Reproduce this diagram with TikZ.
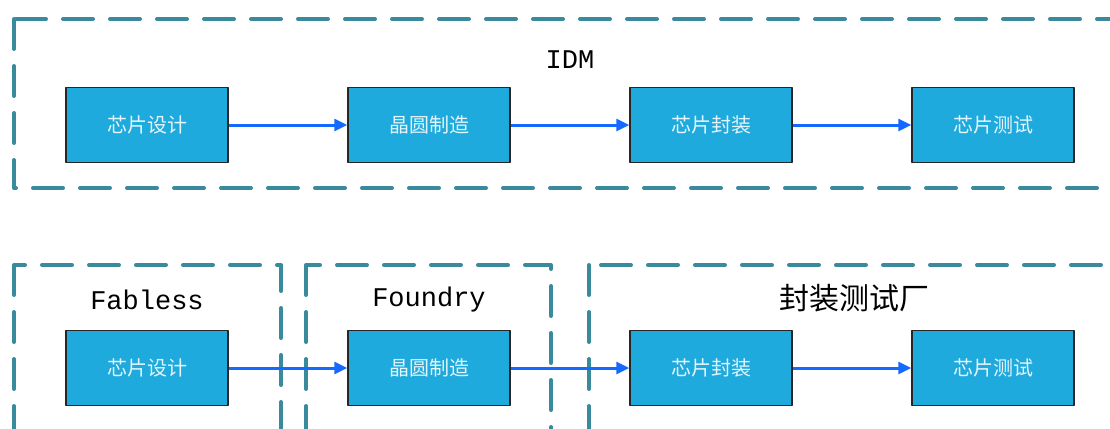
\documentclass[tikz,border=0pt]{standalone}
\usepackage{fontspec}
\setmonofont{Liberation Mono}
\newfontfamily\cjk{Noto Sans CJK SC}
\usetikzlibrary{positioning,arrows.meta}
\definecolor{boxblue}{RGB}{30,170,221}
\definecolor{arrowblue}{RGB}{20,105,255}
\definecolor{frameteal}{RGB}{58,138,158}
\begin{document}
\begin{tikzpicture}[x=1pt,y=-1pt,line join=round,
	stage/.style={draw=black!85,line width=1.5pt,fill=boxblue,minimum width=162pt,minimum height=75pt,
		font=\cjk\fontsize{20}{24}\selectfont,text=white!88!boxblue},
	flow/.style={arrowblue,line width=3pt,-{Triangle[length=13pt,width=12pt]}},
	frame/.style={frameteal,line width=4pt,line cap=round,dash pattern=on 30pt off 17pt},
	title/.style={font=\ttfamily\fontsize{27}{30}\selectfont}]
	\clip (0,0) rectangle (1110,428);
	\useasboundingbox (0,0) rectangle (1110,428);
	% IDM
	\draw[frame] (14,19) rectangle (1130,188);
	\node[title] (idm) at (570,60) {IDM};
	\node[stage] (a1) at (147,125) {芯片设计};
	\node[stage,right=118.5pt of a1] (a2) {晶圆制造};
	\node[stage,right=118.5pt of a2] (a3) {芯片封装};
	\node[stage,right=118.5pt of a3] (a4) {芯片测试};
	\draw[flow] (a1) -- (a2);
	\draw[flow] (a2) -- (a3);
	\draw[flow] (a3) -- (a4);
	% Fabless / Foundry / OSAT
	\draw[frame] (14,265) rectangle (281,450);
	\draw[frame] (306,265) rectangle (551,450);
	\draw[frame] (589,265) rectangle (1130,450);
	\node[title] (fabless) at (147,300) {Fabless};
	\node[title] (foundry) at (429,300) {Foundry};
	\node[font=\cjk\fontsize{30}{34}\selectfont] (osat) at (854,298) {封装测试厂};
	\node[stage] (b1) at (147,368) {芯片设计};
	\node[stage,right=118.5pt of b1] (b2) {晶圆制造};
	\node[stage,right=118.5pt of b2] (b3) {芯片封装};
	\node[stage,right=118.5pt of b3] (b4) {芯片测试};
	\draw[flow] (b1) -- (b2);
	\draw[flow] (b2) -- (b3);
	\draw[flow] (b3) -- (b4);
\end{tikzpicture}
\end{document}
